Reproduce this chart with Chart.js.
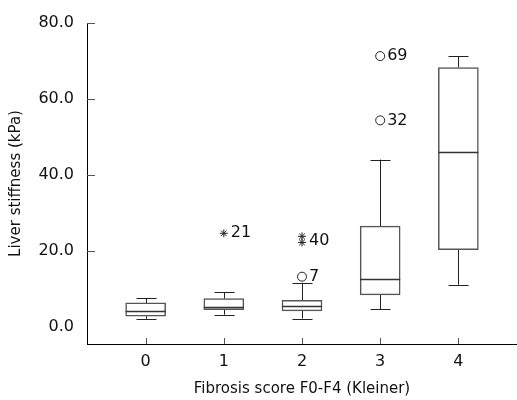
<!DOCTYPE html>
<html lang="en">
<head>
    <meta charset="UTF-8">
    <title>Liver stiffness by fibrosis score</title>
    <script src="https://cdn.jsdelivr.net/npm/chart.js"></script>
    <style>
        html, body { margin: 0; padding: 0; background: #fff; overflow: hidden; }
        #boxChart { display: block; }
    </style>
</head>
<body>
    <canvas id="boxChart" width="517" height="400"></canvas>

    <script>
        // box statistics per fibrosis score (kPa)
        const categories = [0, 1, 2, 3, 4];
        const mins = [2.2, 3.3, 2.3, 4.7, 11.2];
        const q1s = [2.9, 4.65, 4.3, 8.5, 20.4];
        const medians = [4.2, 5.4, 5.7, 12.7, 46.2];
        const q3s = [6.4, 7.55, 7.1, 26.6, 68.3];
        const maxs = [7.7, 9.2, 11.7, 44.1, 71.3];

        // outliers (circles) and extremes (stars)
        const circleX = [2, 3, 3];
        const circleY = [13.3, 54.4, 71.3];
        const starX = [1, 2, 2];
        const starY = [24.7, 23.9, 22.3];

        // case numbers written next to the marks
        const caseLabels = ["7", "32", "69", "21", "40"];
        const caseLabelX = [2, 3, 3, 1, 2];
        const caseLabelY = [13.3, 54.4, 71.3, 24.7, 22.8];

        const yTicks = [0, 20, 40, 60, 80];

        const FONT = "'DejaVu Sans', Verdana, sans-serif";

        const boxExtras = {
            id: "boxExtras",
            beforeDatasetsDraw(chart) {
                const { ctx, scales: { x, y } } = chart;
                ctx.save();
                ctx.strokeStyle = "#222";
                ctx.lineWidth = 1;
                categories.forEach((c, i) => {
                    const px = Math.round(x.getPixelForValue(c)) + 0.5;
                    const cap = 10;
                    ctx.beginPath();
                    ctx.moveTo(px, y.getPixelForValue(q3s[i]));
                    ctx.lineTo(px, y.getPixelForValue(maxs[i]));
                    ctx.moveTo(px, y.getPixelForValue(q1s[i]));
                    ctx.lineTo(px, y.getPixelForValue(mins[i]));
                    const ty = Math.round(y.getPixelForValue(maxs[i])) + 0.5;
                    const by = Math.round(y.getPixelForValue(mins[i])) + 0.5;
                    ctx.moveTo(px - cap, ty);
                    ctx.lineTo(px + cap, ty);
                    ctx.moveTo(px - cap, by);
                    ctx.lineTo(px + cap, by);
                    ctx.stroke();
                });
                ctx.restore();
            },
            afterDatasetsDraw(chart) {
                const { ctx, scales: { x, y } } = chart;
                ctx.save();
                // medians
                ctx.strokeStyle = "#333";
                ctx.lineWidth = 1.3;
                categories.forEach((c, i) => {
                    const px = x.getPixelForValue(c);
                    const my = Math.round(y.getPixelForValue(medians[i])) + 0.5;
                    ctx.beginPath();
                    ctx.moveTo(px - 20, my);
                    ctx.lineTo(px + 20, my);
                    ctx.stroke();
                });
                // case numbers
                ctx.fillStyle = "#111";
                ctx.font = "16px " + FONT;
                ctx.textAlign = "left";
                ctx.textBaseline = "middle";
                caseLabels.forEach((t, i) => {
                    ctx.fillText(t, x.getPixelForValue(caseLabelX[i]) + 7, y.getPixelForValue(caseLabelY[i]));
                });
                // inward tick marks
                ctx.strokeStyle = "#555";
                ctx.lineWidth = 1;
                ctx.beginPath();
                yTicks.forEach(v => {
                    if (v === 0) return;
                    const py = Math.round(y.getPixelForValue(v)) + 0.5;
                    ctx.moveTo(x.left, py);
                    ctx.lineTo(x.left + 8, py);
                });
                categories.forEach(c => {
                    const px = Math.round(x.getPixelForValue(c)) + 0.5;
                    ctx.moveTo(px, y.bottom);
                    ctx.lineTo(px, y.bottom - 6);
                });
                ctx.stroke();
                ctx.restore();
            }
        };

        new Chart(document.getElementById("boxChart"), {
            type: "bar",
            data: {
                datasets: [
                    {
                        type: "bar",
                        data: categories.map((c, i) => ({ x: c, y: [q1s[i], q3s[i]] })),
                        backgroundColor: "#fff",
                        borderColor: "#555",
                        borderWidth: 1.5,
                        borderSkipped: false,
                        barThickness: 40
                    },
                    {
                        type: "scatter",
                        data: circleX.map((c, i) => ({ x: c, y: circleY[i] })),
                        pointStyle: "circle",
                        pointRadius: 4.5,
                        pointBorderWidth: 1,
                        pointBorderColor: "#222",
                        pointBackgroundColor: "#fff"
                    },
                    {
                        type: "scatter",
                        data: starX.map((c, i) => ({ x: c, y: starY[i] })),
                        pointStyle: "star",
                        pointRadius: 4,
                        pointBorderWidth: 1,
                        pointBorderColor: "#222"
                    }
                ]
            },
            options: {
                responsive: false,
                animation: false,
                events: [],
                layout: { autoPadding: false, padding: { top: 23, right: 0, bottom: 0, left: 0 } },
                plugins: {
                    legend: { display: false },
                    tooltip: { enabled: false }
                },
                scales: {
                    x: {
                        type: "linear",
                        min: -0.75,
                        max: 4.75,
                        offset: false,
                        afterBuildTicks(scale) {
                            scale.ticks = categories.map(v => ({ value: v }));
                        },
                        afterFit(scale) {
                            scale.height = 56;
                        },
                        grid: { display: true, drawOnChartArea: false, drawTicks: false },
                        border: { display: true, color: "#000", width: 1 },
                        ticks: {
                            padding: 8,
                            color: "#111",
                            font: { family: FONT, size: 16 },
                            callback: v => String(v)
                        },
                        title: {
                            display: true,
                            text: "Fibrosis score F0-F4 (Kleiner)",
                            color: "#111",
                            font: { family: FONT, size: 15 },
                            padding: { top: 0, bottom: 2 }
                        }
                    },
                    y: {
                        min: -4.4,
                        max: 80,
                        afterBuildTicks(scale) {
                            scale.ticks = yTicks.map(v => ({ value: v }));
                        },
                        afterFit(scale) { scale.width = 87; },
                        grid: { display: true, drawOnChartArea: false, drawTicks: false },
                        border: { display: true, color: "#000", width: 1 },
                        ticks: {
                            padding: 13,
                            color: "#111",
                            font: { family: FONT, size: 16 },
                            callback: v => v.toFixed(1)
                        },
                        title: {
                            display: true,
                            text: "Liver stiffness (kPa)",
                            color: "#111",
                            font: { family: FONT, size: 15 },
                            padding: { top: 7, bottom: 0 }
                        }
                    }
                }
            },
            plugins: [boxExtras]
        });
    </script>
</body>
</html>
